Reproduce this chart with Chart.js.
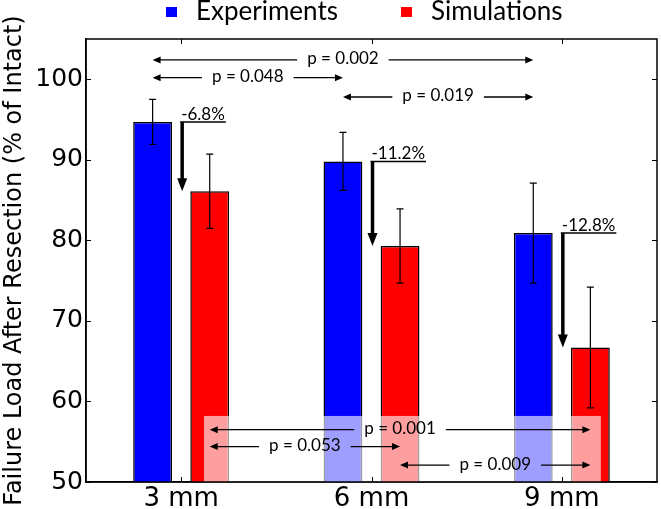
<!DOCTYPE html>
<html>
<head>
<meta charset="utf-8">
<script src="https://cdn.jsdelivr.net/npm/chart.js@4.4.1/dist/chart.umd.min.js"></script>
<style>
  html, body { margin: 0; padding: 0; background: #fff; }
</style>
</head>
<body>
<canvas id="failureChart" width="661" height="509"></canvas>
<script>
const categories = ['3 mm', '6 mm', '9 mm'];
const experiments = [94.7, 89.8, 80.9];
const experimentsErr = [2.8, 3.6, 6.2];
const simulations = [86.1, 79.3, 66.7];
const simulationsErr = [4.6, 4.6, 7.5];
const changeLabels = ['-6.8%', '-11.2%', '-12.8%'];

// pairwise comparisons (bar index from, bar index to)
const expPairs = [[0, 2], [0, 1], [1, 2]];
const expPValues = ['p = 0.002', 'p = 0.048', 'p = 0.019'];
const simPairs = [[0, 2], [0, 1], [1, 2]];
const simPValues = ['p = 0.001', 'p = 0.053', 'p = 0.009'];

const ANNOT_FONT = '17px Lato';
const expLevels = [102.4, 100.2, 97.8];   // y value of each arrow
const simLevels = [56.5, 54.4, 52.1];

Chart.defaults.font.family = "'DejaVu Sans'";
Chart.defaults.color = '#000';

function hArrow(ctx, x1, x2, y, label) {
    const mid = (x1 + x2) / 2;
    const w = ctx.measureText(label).width;
    const gap = 10;
    ctx.lineWidth = 1.3;
    ctx.beginPath();
    ctx.moveTo(x1 + 5, y); ctx.lineTo(mid - w / 2 - gap, y);
    ctx.moveTo(mid + w / 2 + gap, y); ctx.lineTo(x2 - 5, y);
    ctx.stroke();
    ctx.beginPath();
    ctx.moveTo(x1, y); ctx.lineTo(x1 + 8, y - 3.5); ctx.lineTo(x1 + 8, y + 3.5); ctx.closePath();
    ctx.moveTo(x2, y); ctx.lineTo(x2 - 8, y - 3.5); ctx.lineTo(x2 - 8, y + 3.5); ctx.closePath();
    ctx.fill();
    ctx.fillText(label, mid, y - 1);
}

const annotations = {
    id: 'annotations',
    afterDatasetsDraw(chart) {
        const ctx = chart.ctx;
        const y = chart.scales.y;
        const x = chart.scales.x;
        const area = chart.chartArea;
        const expBars = chart.getDatasetMeta(0).data;
        const simBars = chart.getDatasetMeta(1).data;
        ctx.save();
        ctx.strokeStyle = '#000';
        ctx.fillStyle = '#000';

        // error bars
        ctx.lineWidth = 1.2;
        [[expBars, experiments, experimentsErr], [simBars, simulations, simulationsErr]].forEach(([bars, vals, errs]) => {
            bars.forEach((bar, i) => {
                const top = y.getPixelForValue(vals[i] + errs[i]);
                const bot = y.getPixelForValue(vals[i] - errs[i]);
                ctx.beginPath();
                ctx.moveTo(bar.x, top); ctx.lineTo(bar.x, bot);
                ctx.moveTo(bar.x - 3.5, top); ctx.lineTo(bar.x + 3.5, top);
                ctx.moveTo(bar.x - 3.5, bot); ctx.lineTo(bar.x + 3.5, bot);
                ctx.stroke();
            });
        });

        // percentage change arrows
        ctx.font = ANNOT_FONT;
        ctx.textAlign = 'left';
        ctx.textBaseline = 'alphabetic';
        categories.forEach((c, i) => {
            const cx = x.getPixelForValue(i) + 1;
            const yTop = y.getPixelForValue(experiments[i]);
            const yTip = y.getPixelForValue(simulations[i]);
            const w = ctx.measureText(changeLabels[i]).width;
            ctx.fillText(changeLabels[i], cx - 1, yTop - 2);
            ctx.lineWidth = 1.5;
            ctx.beginPath();
            ctx.moveTo(cx - 2, yTop); ctx.lineTo(cx + w, yTop);
            ctx.stroke();
            ctx.lineWidth = 3.5;
            ctx.beginPath();
            ctx.moveTo(cx, yTop); ctx.lineTo(cx, yTip - 10);
            ctx.stroke();
            ctx.beginPath();
            ctx.moveTo(cx, yTip); ctx.lineTo(cx - 5, yTip - 13); ctx.lineTo(cx + 5, yTip - 13); ctx.closePath();
            ctx.fill();
        });

        // translucent box behind the simulation comparisons
        ctx.fillStyle = 'rgba(255,255,255,0.62)';
        const bx1 = x.getPixelForValue(0.12), bx2 = x.getPixelForValue(2.205);
        const by = y.getPixelForValue(58.2);
        ctx.fillRect(bx1, by, bx2 - bx1, area.bottom - by);
        ctx.fillStyle = '#000';

        ctx.textAlign = 'center';
        ctx.textBaseline = 'middle';
        expPairs.forEach(([a, b], k) => {
            hArrow(ctx, expBars[a].x, expBars[b].x, y.getPixelForValue(expLevels[k]), expPValues[k]);
        });
        simPairs.forEach(([a, b], k) => {
            hArrow(ctx, simBars[a].x, simBars[b].x, y.getPixelForValue(simLevels[k]), simPValues[k]);
        });

        // frame and inward ticks
        ctx.lineWidth = 1.5;
        ctx.strokeRect(area.left, area.top, area.right - area.left, area.bottom - area.top);
        ctx.lineWidth = 1;
        ctx.beginPath();
        y.ticks.forEach(t => {
            const py = Math.round(y.getPixelForValue(t.value)) + 0.5;
            ctx.moveTo(area.left, py); ctx.lineTo(area.left + 5, py);
            ctx.moveTo(area.right, py); ctx.lineTo(area.right - 5, py);
        });
        categories.forEach((c, i) => {
            const px = Math.round(x.getPixelForValue(i)) + 0.5;
            ctx.moveTo(px, area.bottom); ctx.lineTo(px, area.bottom - 5);
            ctx.moveTo(px, area.top); ctx.lineTo(px, area.top + 5);
        });
        ctx.stroke();
        ctx.restore();
    },
    afterDraw(chart) {
        // legend
        const ctx = chart.ctx;
        ctx.save();
        ctx.font = '26px Lato';
        ctx.textBaseline = 'middle';
        ctx.textAlign = 'left';
        chart.data.datasets.forEach((ds, i) => {
            const lx = [166, 401][i];
            ctx.fillStyle = ds.backgroundColor;
            ctx.fillRect(lx, 7, 11, 10);
            ctx.fillStyle = '#000';
            ctx.fillText(ds.label, lx + 30, 12);
        });
        ctx.restore();
    }
};

new Chart(document.getElementById('failureChart'), {
    type: 'bar',
    data: {
        labels: categories,
        datasets: [{
            label: 'Experiments',
            data: experiments,
            backgroundColor: '#0000ff',
            borderColor: '#000',
            borderWidth: 1.5
        }, {
            label: 'Simulations',
            data: simulations,
            backgroundColor: '#ff0000',
            borderColor: '#000',
            borderWidth: 1.5
        }]
    },
    options: {
        responsive: false,
        animation: false,
        devicePixelRatio: 1,
        layout: { padding: { top: 39, right: 4, left: 0, bottom: 0 } },
        datasets: { bar: { categoryPercentage: 0.6, barPercentage: 0.68 } },
        plugins: { legend: { display: false }, tooltip: { enabled: false } },
        scales: {
            x: {
                offset: true,
                grid: { display: false, drawTicks: false },
                border: { display: true, color: '#000', width: 1.5 },
                ticks: { font: { family: "'DejaVu Sans'", size: 26 }, color: '#000', padding: 2 },
                afterFit: s => { s.height = 27; }
            },
            y: {
                min: 50,
                max: 105,
                grid: { display: false, drawTicks: false },
                border: { display: true, color: '#000', width: 1.5 },
                ticks: { stepSize: 10, includeBounds: false, font: { family: "'DejaVu Sans'", size: 25 }, color: '#000', padding: 3 },
                title: {
                    display: true,
                    text: 'Failure Load After Resection (% of Intact)',
                    font: { family: "'DejaVu Sans'", size: 24 },
                    color: '#000',
                    padding: 0
                },
                afterFit: s => { s.width = 86; }
            }
        }
    },
    plugins: [annotations]
});
</script>
</body>
</html>
